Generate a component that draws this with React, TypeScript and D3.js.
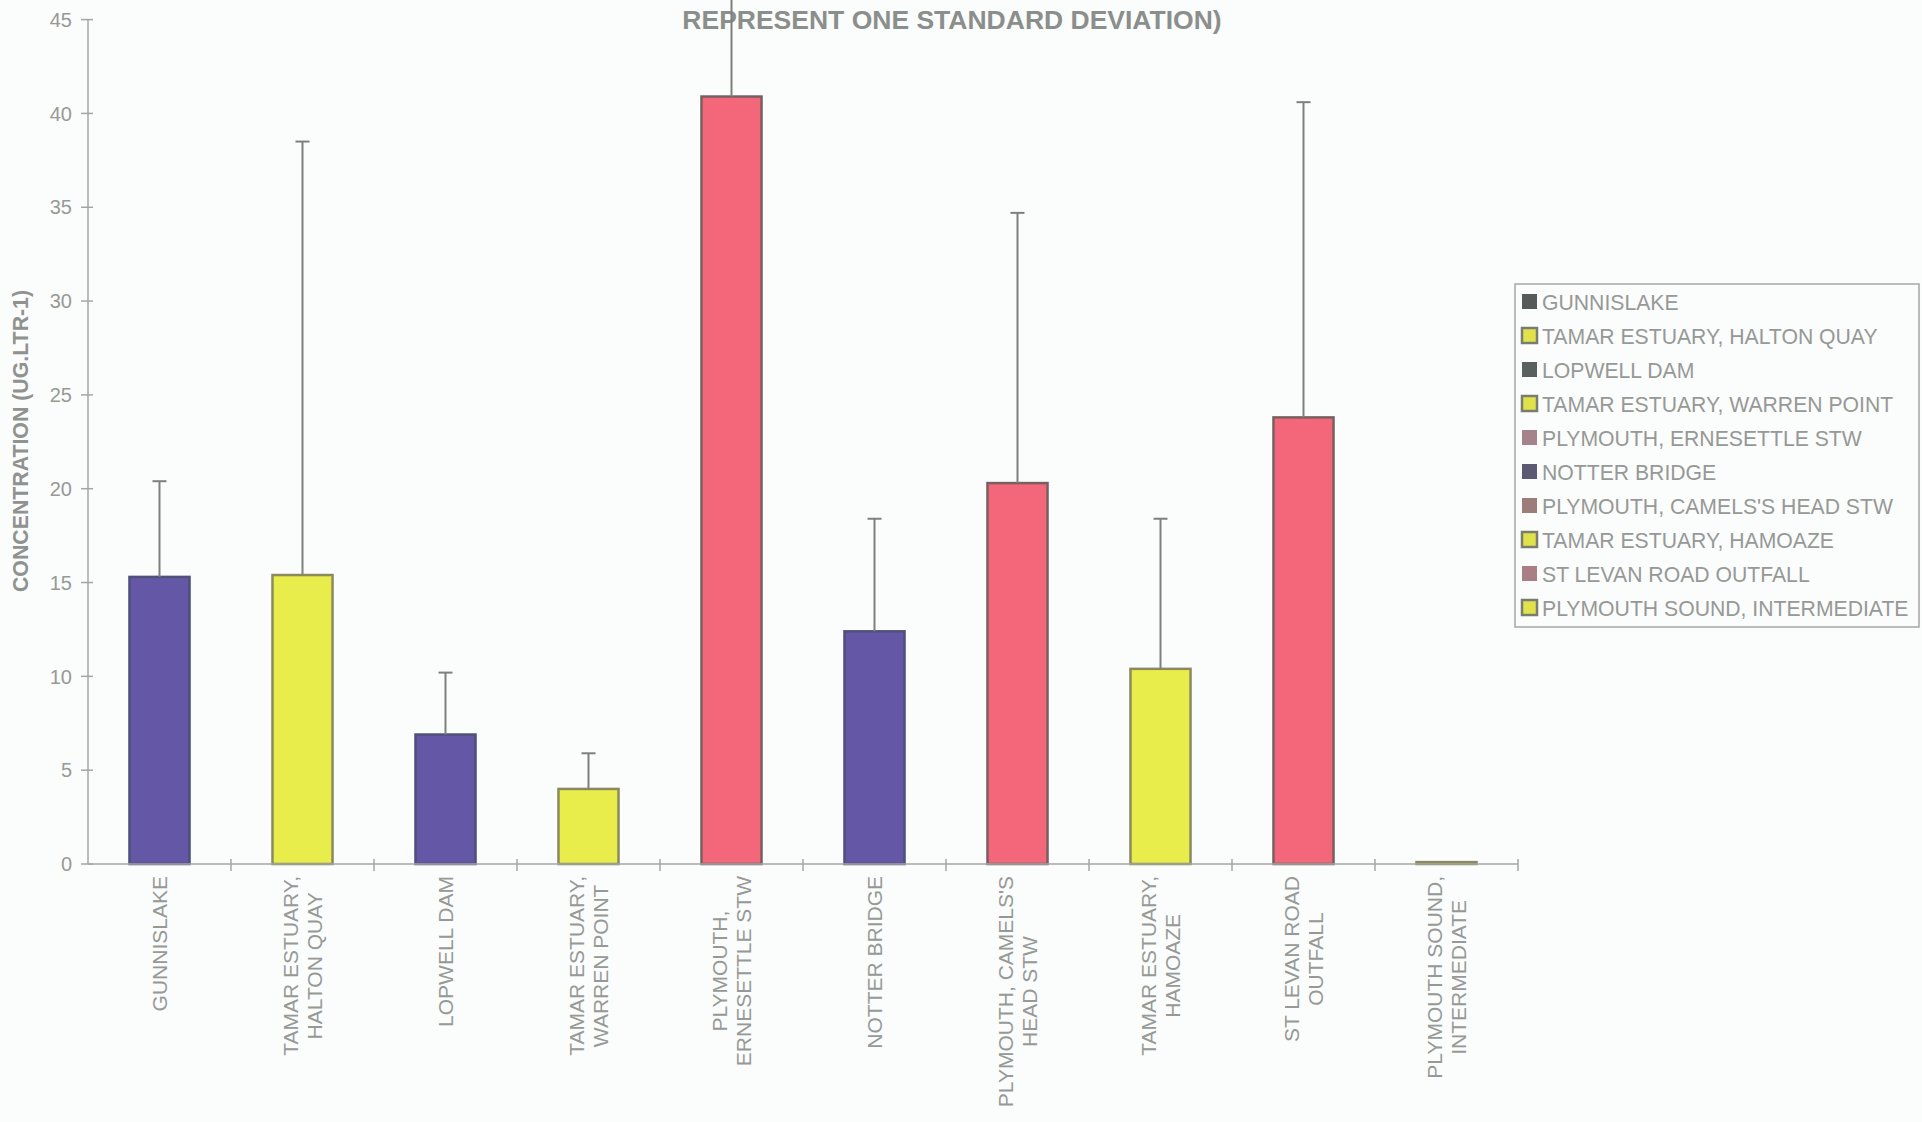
import { useEffect, useRef } from 'react';
import * as d3 from 'd3';

const sites = [
  'GUNNISLAKE',
  'TAMAR ESTUARY, HALTON QUAY',
  'LOPWELL DAM',
  'TAMAR ESTUARY, WARREN POINT',
  'PLYMOUTH, ERNESETTLE STW',
  'NOTTER BRIDGE',
  "PLYMOUTH, CAMELS'S HEAD STW",
  'TAMAR ESTUARY, HAMOAZE',
  'ST LEVAN ROAD OUTFALL',
  'PLYMOUTH SOUND, INTERMEDIATE',
];

const axisLabels = [
  ['GUNNISLAKE'],
  ['TAMAR ESTUARY,', 'HALTON QUAY'],
  ['LOPWELL DAM'],
  ['TAMAR ESTUARY,', 'WARREN POINT'],
  ['PLYMOUTH,', 'ERNESETTLE STW'],
  ['NOTTER BRIDGE'],
  ["PLYMOUTH, CAMELS'S", 'HEAD STW'],
  ['TAMAR ESTUARY,', 'HAMOAZE'],
  ['ST LEVAN ROAD', 'OUTFALL'],
  ['PLYMOUTH SOUND,', 'INTERMEDIATE'],
];

const means = [15.3, 15.4, 6.9, 4.0, 40.9, 12.4, 20.3, 10.4, 23.8, 0.1];
const stdDevs = [5.1, 23.1, 3.3, 1.9, 6.6, 6.0, 14.4, 8.0, 16.8, 0];

const barFills = ['#6457a6', '#e9ed4c', '#6457a6', '#e9ed4c', '#f4677a', '#6457a6', '#f4677a', '#e9ed4c', '#f4677a', '#e9ed4c'];
const barStrokes = ['#50507a', '#8a8a5e', '#50507a', '#8a8a5e', '#786060', '#50507a', '#786060', '#8a8a5e', '#786060', '#8a8a5e'];
const legendFills = ['#565b5a', '#dfe24a', '#59615e', '#dfe24a', '#a5838b', '#5c5a72', '#9d7d7a', '#dfe24a', '#a97e84', '#dfe24a'];

const yTicks = [0, 5, 10, 15, 20, 25, 30, 35, 40, 45];

const FONT = '"Liberation Sans", Arial, sans-serif';
const GREY = '#969996';

export default function App() {
  const ref = useRef<SVGSVGElement>(null);

  useEffect(() => {
    if (!ref.current) return;
    const svg = d3.select(ref.current);
    svg.selectAll('*').remove();

    const left = 88;
    const right = 1518;
    const x = d3.scaleBand<number>().domain(d3.range(sites.length)).range([left, right]).padding(0);
    const y = d3.scaleLinear().domain([0, 45]).range([864, 19.6]);
    const barW = x.bandwidth() * 0.42;

    svg.append('rect').attr('width', 1922).attr('height', 1122).attr('fill', '#fbfcfc');

    // title
    svg
      .append('text')
      .attr('x', 952)
      .attr('y', 29)
      .attr('text-anchor', 'middle')
      .attr('font-family', FONT)
      .attr('font-weight', 'bold')
      .attr('font-size', 26.5)
      .attr('fill', '#8b8f8c')
      .text('REPRESENT ONE STANDARD DEVIATION)');

    // y axis
    svg
      .append('line')
      .attr('x1', left)
      .attr('x2', left)
      .attr('y1', y(45))
      .attr('y2', y(0))
      .attr('stroke', '#a4a6a4')
      .attr('stroke-width', 1.5);

    const yt = svg.append('g').selectAll('g').data(yTicks).join('g');
    yt.append('line')
      .attr('x1', left - 7)
      .attr('x2', left + 5)
      .attr('y1', (d) => y(d))
      .attr('y2', (d) => y(d))
      .attr('stroke', '#a4a6a4')
      .attr('stroke-width', 1.5);
    yt.append('text')
      .attr('x', left - 16)
      .attr('y', (d) => y(d))
      .attr('dy', '0.36em')
      .attr('text-anchor', 'end')
      .attr('font-family', FONT)
      .attr('font-size', 20)
      .attr('fill', GREY)
      .text((d) => d);

    svg
      .append('text')
      .attr('transform', 'translate(28,441) rotate(-90)')
      .attr('text-anchor', 'middle')
      .attr('font-family', FONT)
      .attr('font-weight', 'bold')
      .attr('font-size', 21.3)
      .attr('fill', '#8f928f')
      .text('CONCENTRATION (UG.LTR-1)');

    // bars
    const bars = svg.append('g').selectAll('g').data(means).join('g');
    bars
      .append('rect')
      .attr('x', (_, i) => (x(i) as number) + x.bandwidth() / 2 - barW / 2)
      .attr('width', barW)
      .attr('y', (d) => y(d))
      .attr('height', (d) => y(0) - y(d))
      .attr('fill', (_, i) => barFills[i])
      .attr('stroke', (_, i) => barStrokes[i])
      .attr('stroke-width', 2.5);

    // error bars (upper only)
    const err = svg.append('g').selectAll('g').data(means).join('g');
    err
      .filter((_, i) => stdDevs[i] > 0)
      .append('line')
      .attr('x1', (_, i) => (x(i) as number) + x.bandwidth() / 2)
      .attr('x2', (_, i) => (x(i) as number) + x.bandwidth() / 2)
      .attr('y1', (d) => y(d))
      .attr('y2', (d, i) => y(d + stdDevs[i]))
      .attr('stroke', '#7d807d')
      .attr('stroke-width', 2);
    err
      .filter((_, i) => stdDevs[i] > 0)
      .append('line')
      .attr('x1', (_, i) => (x(i) as number) + x.bandwidth() / 2 - 7)
      .attr('x2', (_, i) => (x(i) as number) + x.bandwidth() / 2 + 7)
      .attr('y1', (d, i) => y(d + stdDevs[i]))
      .attr('y2', (d, i) => y(d + stdDevs[i]))
      .attr('stroke', '#7d807d')
      .attr('stroke-width', 2);

    // x axis
    svg
      .append('line')
      .attr('x1', left)
      .attr('x2', right)
      .attr('y1', y(0))
      .attr('y2', y(0))
      .attr('stroke', '#a4a6a4')
      .attr('stroke-width', 1.5);
    svg
      .append('g')
      .selectAll('line')
      .data(d3.range(1, sites.length + 1))
      .join('line')
      .attr('x1', (i) => left + i * x.step())
      .attr('x2', (i) => left + i * x.step())
      .attr('y1', y(0) - 5)
      .attr('y2', y(0) + 7)
      .attr('stroke', '#a4a6a4')
      .attr('stroke-width', 1.5);

    // category labels, rotated, block top-anchored below the axis
    axisLabels.forEach((lines, i) => {
      const cx = (x(i) as number) + x.bandwidth() / 2;
      const g = svg.append('g');
      const texts = g
        .selectAll('text')
        .data(lines)
        .join('text')
        .attr('transform', (_, j) => `translate(${(j - (lines.length - 1) / 2) * 24},0) rotate(-90)`)
        .attr('dy', '0.36em')
        .attr('text-anchor', 'middle')
        .attr('font-family', FONT)
        .attr('font-size', 21)
        .attr('fill', GREY)
        .text((d) => d);
      let maxLen = 0;
      texts.each(function () {
        maxLen = Math.max(maxLen, (this as SVGTextElement).getComputedTextLength());
      });
      g.attr('transform', `translate(${cx},${876 + maxLen / 2})`);
    });

    // legend
    const lg = svg.append('g');
    lg.append('rect')
      .attr('x', 1515)
      .attr('y', 284)
      .attr('width', 404)
      .attr('height', 343)
      .attr('fill', '#fbfcfc')
      .attr('stroke', '#a4a6a4')
      .attr('stroke-width', 1.5);
    const rows = lg.selectAll('g').data(sites).join('g').attr('transform', (_, i) => `translate(1522,${302 + i * 34})`);
    rows
      .append('rect')
      .attr('x', 0)
      .attr('y', -8)
      .attr('width', 15)
      .attr('height', 15)
      .attr('fill', (_, i) => legendFills[i])
      .attr('stroke', (_, i) => (legendFills[i] === '#dfe24a' ? '#7a7c70' : 'none'))
      .attr('stroke-width', 2.5);
    rows
      .append('text')
      .attr('x', 20)
      .attr('dy', '0.36em')
      .attr('font-family', FONT)
      .attr('font-size', 21.2)
      .attr('fill', GREY)
      .text((d) => d);
  }, []);

  return (
    <svg
      ref={ref}
      width={1922}
      height={1122}
      style={{ position: 'absolute', left: 0, top: 0 }}
      role="img"
      aria-label="Concentration bar chart"
    />
  );
}
